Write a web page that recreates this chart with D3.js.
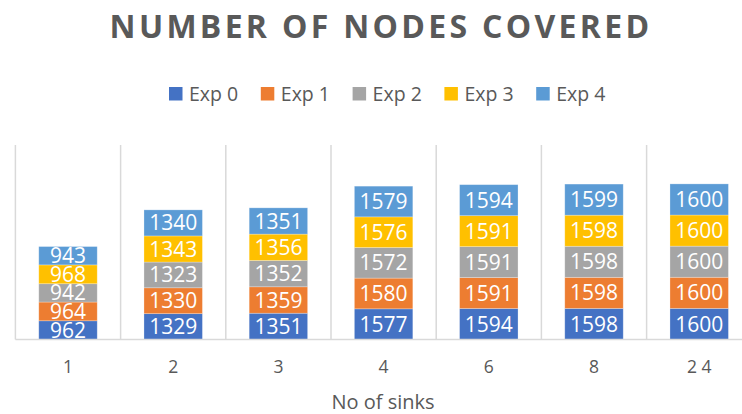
<!DOCTYPE html>
<html>
<head>
<meta charset="utf-8">
<script src="https://cdn.jsdelivr.net/npm/d3@7"></script>
<style>
  body { margin: 0; background: #fff; }
  text { font-family: "Open Sans", sans-serif; }
</style>
</head>
<body>
<div id="chart"></div>
<script>
const width = 742;
const height = 414;

const categories = ['1', '2', '3', '4', '6', '8', '24'];
const tickLabels = ['1', '2', '3', '4', '6', '8', '2 4'];
const seriesNames = ['Exp 0', 'Exp 1', 'Exp 2', 'Exp 3', 'Exp 4'];
const exp0 = [962, 1329, 1351, 1577, 1594, 1598, 1600];
const exp1 = [964, 1330, 1359, 1580, 1591, 1598, 1600];
const exp2 = [942, 1323, 1352, 1572, 1591, 1598, 1600];
const exp3 = [968, 1343, 1356, 1576, 1591, 1598, 1600];
const exp4 = [943, 1340, 1351, 1579, 1594, 1599, 1600];
const yMax = 10000;

const colors = ['#4472C4', '#ED7D31', '#A5A5A5', '#FFC000', '#5B9BD5'];

// plot area (right edge runs past the picture)
const plot = { left: 15.4, right: 751.8, top: 145, bottom: 339.5 };

const rows = categories.map((c, i) => ({
  cat: c,
  'Exp 0': exp0[i], 'Exp 1': exp1[i], 'Exp 2': exp2[i], 'Exp 3': exp3[i], 'Exp 4': exp4[i]
}));
const stacked = d3.stack().keys(seriesNames)(rows);

const svg = d3.select('#chart')
  .append('svg')
  .attr('width', width)
  .attr('height', height);

const xScale = d3.scaleBand()
  .domain(categories)
  .range([plot.left, plot.right])
  .paddingInner(0.8 / 1.8)
  .paddingOuter(0.4 / 1.8);

const yScale = d3.scaleLinear()
  .domain([0, yMax])
  .range([plot.bottom, plot.top]);

const step = xScale.step();
const gap = (step - xScale.bandwidth()) / 2;

/* Title */
svg.append('text')
  .attr('x', 381)
  .attr('y', 37.5)
  .attr('text-anchor', 'middle')
  .style('font-size', '32px')
  .style('font-weight', 'bold')
  .style('letter-spacing', '3.3px')
  .style('fill', '#595959')
  .text('NUMBER OF NODES COVERED');

/* Legend */
const legend = svg.append('g')
  .selectAll('g')
  .data(seriesNames)
  .enter()
  .append('g')
  .attr('transform', (d, i) => 'translate(' + (169 + i * 91.8) + ',87)');

legend.append('rect')
  .attr('width', 13.5)
  .attr('height', 13.5)
  .style('fill', (d, i) => colors[i]);

legend.append('text')
  .attr('x', 20)
  .attr('y', 13.5)
  .style('font-size', '19.5px')
  .style('fill', '#595959')
  .text(d => d);

/* Gridlines between categories */
const boundaries = categories.map(c => xScale(c) - gap).concat([plot.right]);
svg.append('g')
  .selectAll('line')
  .data(boundaries)
  .enter()
  .append('line')
  .attr('x1', d => d)
  .attr('x2', d => d)
  .attr('y1', plot.top)
  .attr('y2', plot.bottom)
  .style('stroke', '#d9d9d9')
  .style('stroke-width', 1.5);

/* Bars */
const layers = svg.append('g')
  .selectAll('g')
  .data(stacked)
  .enter()
  .append('g')
  .style('fill', (d, i) => colors[i]);

layers.selectAll('rect')
  .data(d => d)
  .enter()
  .append('rect')
  .attr('x', d => xScale(d.data.cat))
  .attr('y', d => yScale(d[1]))
  .attr('width', xScale.bandwidth())
  .attr('height', d => yScale(d[0]) - yScale(d[1]))
  .style('stroke', '#ffffff')
  .style('stroke-opacity', 0.35)
  .style('stroke-width', 0.75);

layers.selectAll('text')
  .data(d => d.map(v => ({ v, key: d.key })))
  .enter()
  .append('text')
  .attr('x', d => xScale(d.v.data.cat) + xScale.bandwidth() / 2)
  .attr('y', d => (yScale(d.v[0]) + yScale(d.v[1])) / 2)
  .attr('dy', '0.36em')
  .attr('text-anchor', 'middle')
  .style('font-size', '21px')
  .style('fill', '#ffffff')
  .text(d => d.v.data[d.key]);

/* Axis */
const xAxis = svg.append('g')
  .attr('transform', 'translate(0,' + plot.bottom + ')')
  .call(d3.axisBottom(xScale).tickSize(0).tickPadding(21).tickFormat((d, i) => tickLabels[i]));

xAxis.select('.domain').remove();
xAxis.selectAll('text')
  .style('font-family', '"Open Sans", sans-serif')
  .style('font-size', '17.5px')
  .style('fill', '#595959');

svg.append('line')
  .attr('x1', plot.left)
  .attr('x2', plot.right)
  .attr('y1', plot.bottom)
  .attr('y2', plot.bottom)
  .style('stroke', '#d9d9d9')
  .style('stroke-width', 1.5);

svg.append('text')
  .attr('x', 383)
  .attr('y', 409)
  .attr('text-anchor', 'middle')
  .style('font-size', '20px')
  .style('fill', '#595959')
  .text('No of sinks');
</script>
</body>
</html>
